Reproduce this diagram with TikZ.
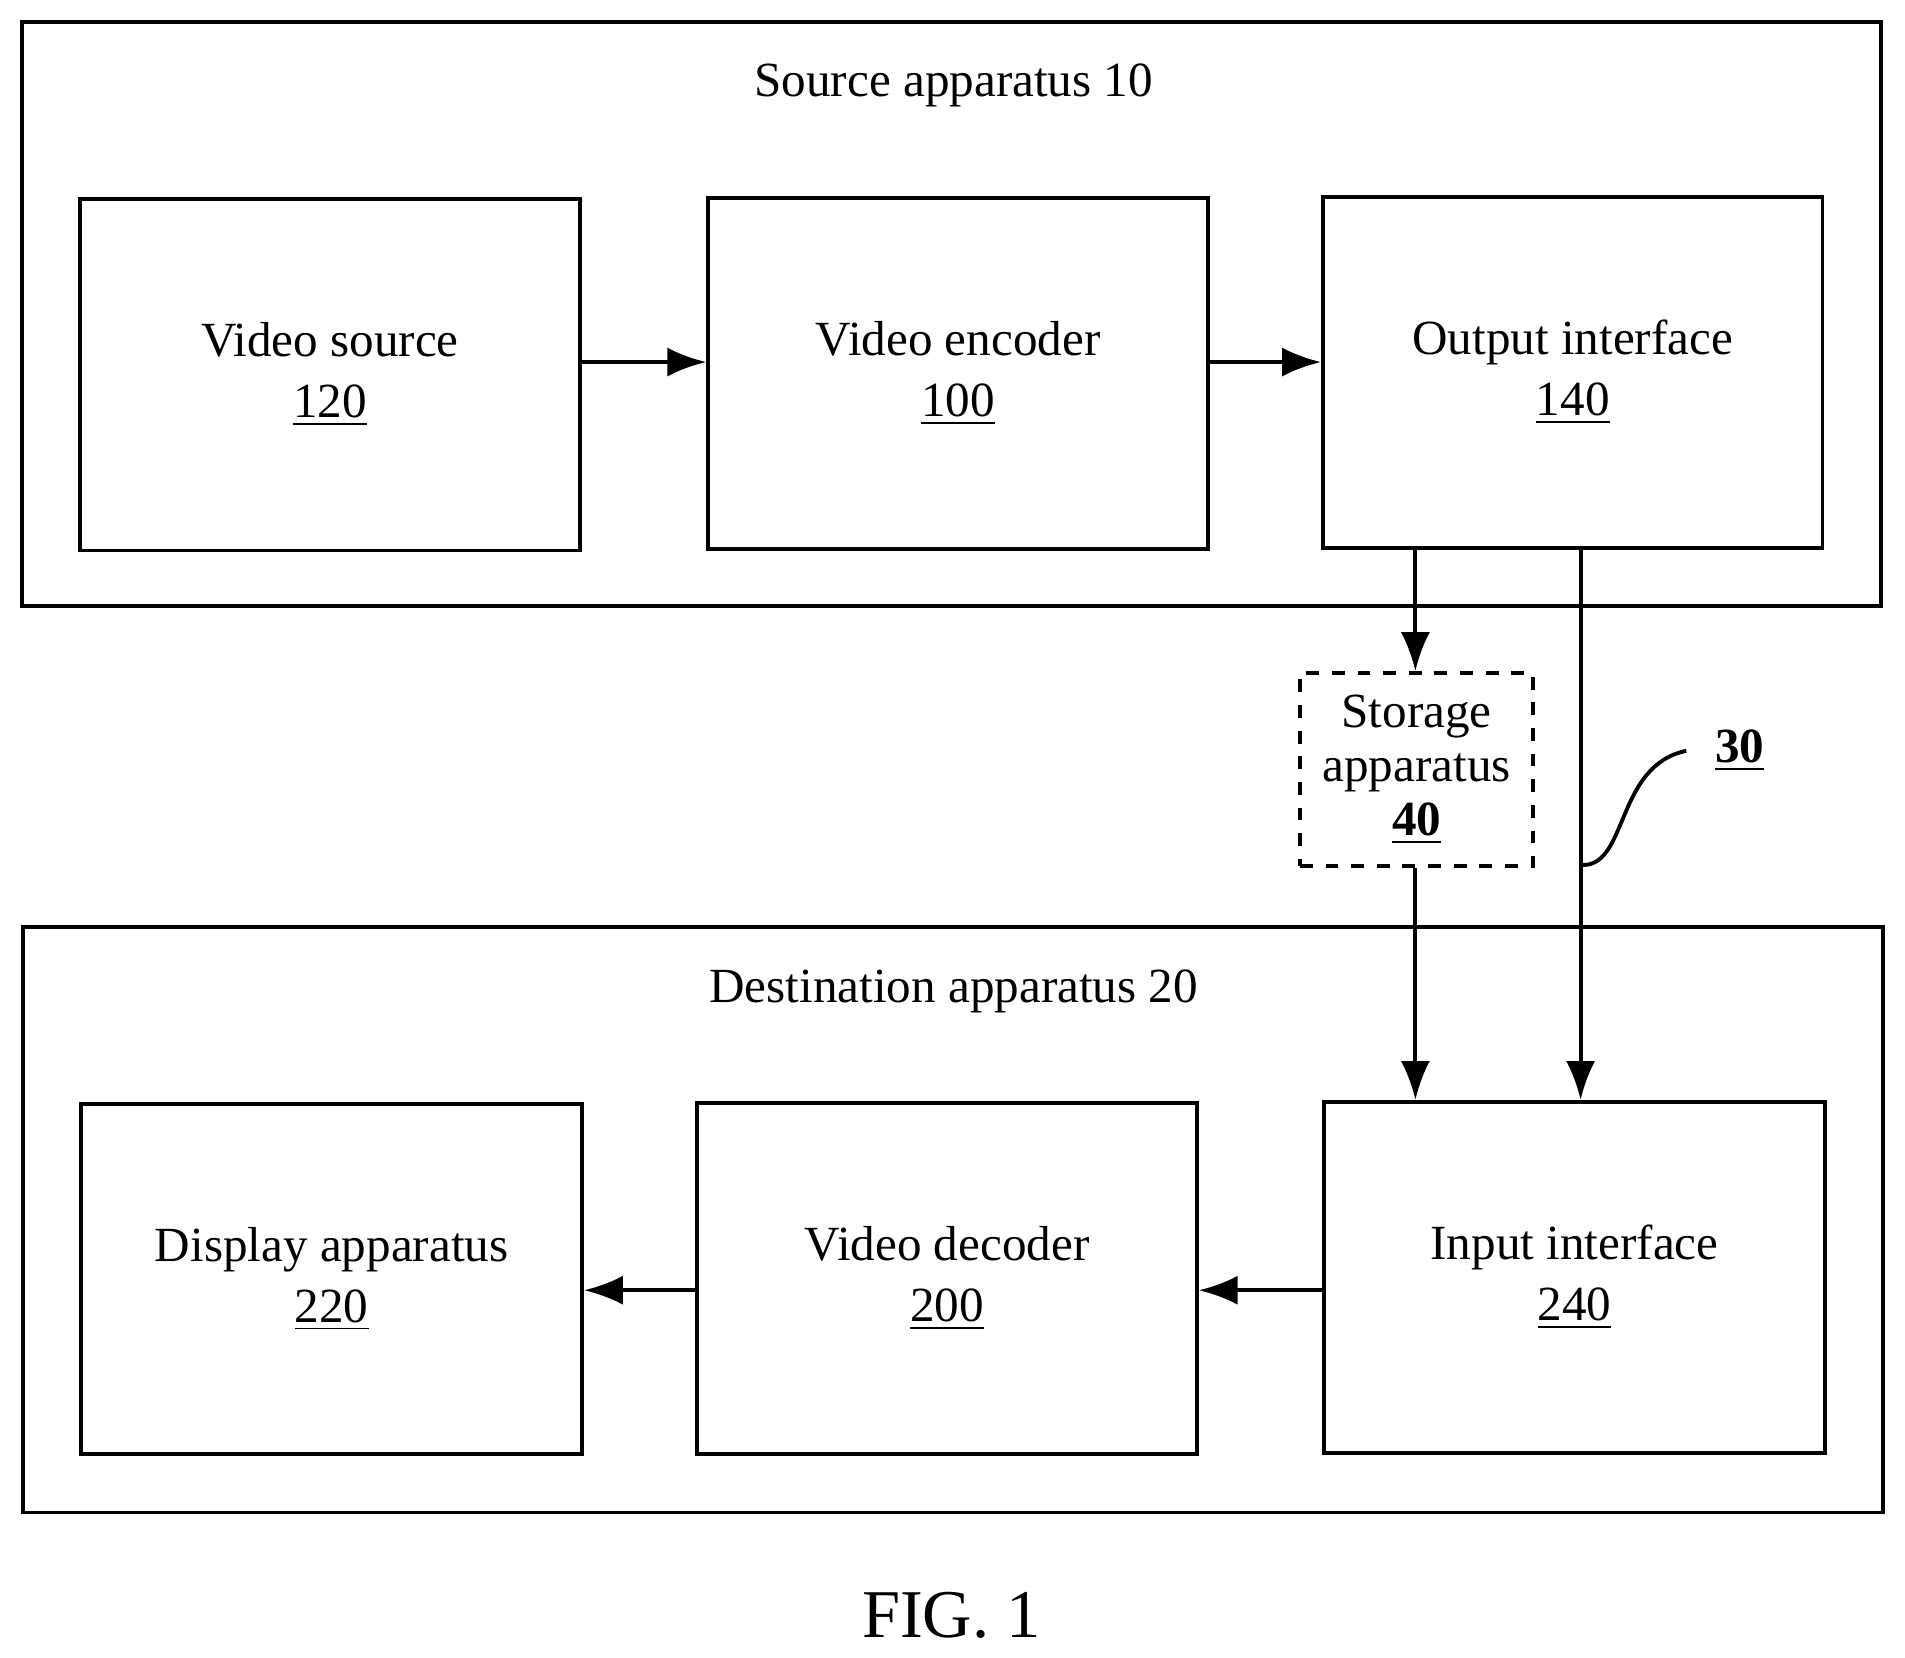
\documentclass[tikz,border=0pt]{standalone}
\usepackage{fontspec}
\setmainfont{Liberation Serif}
\usetikzlibrary{arrows.meta}
\tikzset{
    blk/.style={draw, line width=0.9pt, align=center, font=\fontsize{11.5}{14.2}\selectfont},
    frame/.style={draw, line width=0.9pt},
    con/.style={line width=0.9pt, -{Latex[length=3.2mm, width=2.4mm]}},
}
\begin{document}
\begin{tikzpicture}[x=0.01cm, y=-0.01cm]
    \useasboundingbox (0,0) rectangle (1568,1364);

    % source apparatus
    \draw[frame] (18,18) rectangle (1548,499);
    \node[font=\fontsize{11.5}{14}\selectfont] (srcT) at (785,70) {Source apparatus 10};
    \node[blk, minimum width=4.11cm, minimum height=2.89cm] (vsrc) at (271.5,308.5) {Video source\\\underline{120}};
    \node[blk, minimum width=4.11cm, minimum height=2.89cm] (venc) at (788.5,307.5) {Video encoder\\\underline{100}};
    \node[blk, minimum width=4.11cm, minimum height=2.89cm] (outif) at (1294.5,306.5) {Output interface\\\underline{140}};

    % storage
    \node[blk, dashed, minimum width=1.92cm, minimum height=1.59cm, inner sep=1pt, font=\fontsize{11.5}{12.6}\selectfont] (stor) at (1166,633.5) {Storage\\apparatus\\\textbf{\underline{40}}};

    % destination apparatus
    \draw[frame] (19,763) rectangle (1550,1245);
    \node[font=\fontsize{11.5}{14}\selectfont] (dstT) at (785,816) {Destination apparatus 20};
    \node[blk, minimum width=4.12cm, minimum height=2.88cm] (disp) at (273,1053) {Display apparatus\\\underline{220}};
    \node[blk, minimum width=4.11cm, minimum height=2.89cm] (vdec) at (779.5,1052.5) {Video decoder\\\underline{200}};
    \node[blk, minimum width=4.12cm, minimum height=2.89cm] (inif) at (1296,1051.5) {Input interface\\\underline{240}};

    % connectors
    \draw[con] (vsrc.east |- 0,298) -- (venc.west |- 0,298);
    \draw[con] (venc.east |- 0,298) -- (outif.west |- 0,298);
    \draw[con] (outif.south -| 1165,0) -- (stor.north -| 1165,0);
    \draw[con] (stor.south -| 1165,0) -- (inif.north -| 1165,0);
    \draw[con] (outif.south -| 1301,0) -- (inif.north -| 1301,0);
    \draw[con] (inif.west |- 0,1062) -- (vdec.east |- 0,1062);
    \draw[con] (vdec.west |- 0,1062) -- (disp.east |- 0,1062);

    % channel 30
    \node[font=\fontsize{11.5}{14}\selectfont\bfseries] (ch) at (1432,618) {\underline{30}};
    \coordinate (chA) at (1388,618);
    \coordinate (chB) at (1303,712);
    \draw[line width=0.9pt] (chA) .. controls (1330,630) and (1340,712) .. (chB);

    \node[font=\fontsize{16}{19}\selectfont] (fig) at (783,1330) {FIG. 1};
\end{tikzpicture}
\end{document}
